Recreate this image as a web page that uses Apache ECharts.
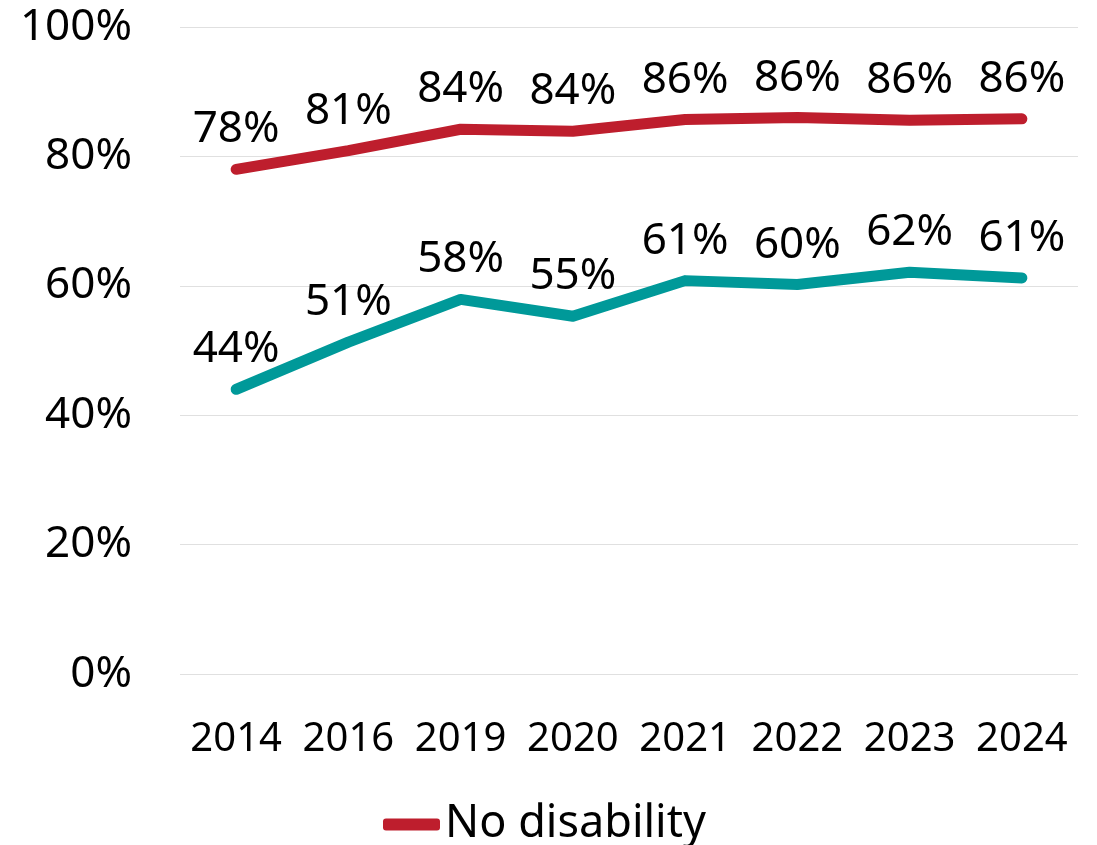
<!DOCTYPE html>
<html>
<head>
<meta charset="utf-8">
<script src="https://cdn.jsdelivr.net/npm/echarts@6/dist/echarts.min.js"></script>
<style>
  html, body { margin: 0; padding: 0; background: #fff; }
  #chart { width: 1097px; height: 845px; }
</style>
</head>
<body>
<div id="chart"></div>
<script>
// years on the x axis
var years = ['2014', '2016', '2019', '2020', '2021', '2022', '2023', '2024'];
// share, in percent
var noDisability = [78.0, 80.9, 84.2, 83.9, 85.7, 86.0, 85.6, 85.8];
var withDisability = [44.0, 51.3, 57.9, 55.3, 60.8, 60.2, 62.1, 61.2];
var yTicks = [0, 20, 40, 60, 80, 100];

var FONT = '"Noto Sans", "Open Sans", sans-serif';

var myChart = echarts.init(document.getElementById('chart'));

function lineSeries(name, data, color) {
    return {
        name: name,
        type: 'line',
        data: data,
        symbol: 'circle',
        symbolSize: 1,
        itemStyle: {color: color},
        lineStyle: {color: color, width: 11, cap: 'round', join: 'round'},
        label: {
            show: true,
            position: 'top',
            distance: 17,
            fontFamily: FONT,
            fontSize: 44,
            color: '#000',
            formatter: function (p) { return Math.round(p.value) + '%'; }
        },
        silent: true,
        animation: false
    };
}

var option = {
    backgroundColor: '#fff',
    grid: {left: 180, right: 19, top: 27, bottom: 171, containLabel: false},
    legend: {
        data: ['No disability'],
        left: 378,
        top: 797,
        icon: 'roundRect',
        itemWidth: 57,
        itemHeight: 12,
        textStyle: {fontFamily: FONT, fontSize: 45, color: '#000', padding: [0, 0, 0, 0]}
    },
    xAxis: {
        type: 'category',
        data: years,
        boundaryGap: true,
        axisLine: {show: false},
        axisTick: {show: false},
        axisLabel: {interval: 0, fontFamily: FONT, fontSize: 40, color: '#000', margin: 46}
    },
    yAxis: {
        type: 'value',
        min: yTicks[0],
        max: yTicks[yTicks.length - 1],
        interval: 20,
        axisLine: {show: false},
        axisTick: {show: false},
        splitLine: {lineStyle: {color: '#e0e0e0', width: 1}},
        axisLabel: {
            fontFamily: FONT, fontSize: 44, color: '#000', margin: 48,
            formatter: function (v) { return v + '%'; }
        }
    },
    series: [
        lineSeries('No disability', noDisability, '#be1e2d'),
        lineSeries('With disability', withDisability, '#009999')
    ]
};

myChart.setOption(option, true);
</script>
</body>
</html>
